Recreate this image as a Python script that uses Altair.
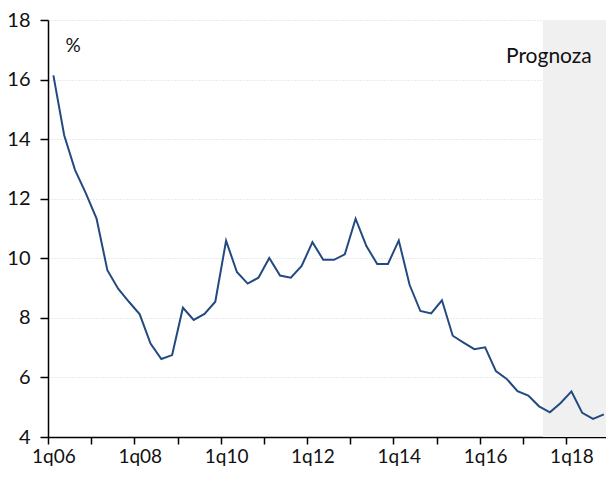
import altair as alt
import pandas as pd

quarters = [f"{q}q{y:02d}" for y in range(6, 19) for q in range(1, 5)]
values = [16.14, 14.13, 12.97, 12.19, 11.33, 9.60, 8.98, 8.54, 8.12, 7.14,
          6.62, 6.75, 8.34, 7.93, 8.13, 8.54, 10.59, 9.54, 9.15, 9.35,
          10.01, 9.42, 9.35, 9.74, 10.54, 9.95, 9.95, 10.13, 11.33, 10.41,
          9.81, 9.81, 10.60, 9.11, 8.23, 8.15, 8.59, 7.40, 7.17, 6.95,
          7.01, 6.21, 5.95, 5.54, 5.39, 5.03, 4.83, 5.14, 5.53, 4.81,
          4.61, 4.76]
label_quarters = ["1q06", "1q08", "1q10", "1q12", "1q14", "1q16", "1q18"]
y_ticks = [4, 6, 8, 10, 12, 14, 16, 18]
forecast_start = 45.35

df = pd.DataFrame({"idx": list(range(len(values))), "q": quarters, "v": values})

W = 558
H = 417
xmax = 51.2
per_q = W / (xmax + 0.5)

tick_vals = [-0.5 + 4 * k for k in range(13)]
expr = "''"
for lab in reversed(label_quarters):
    pos = quarters.index(lab) - 0.5
    expr = f"datum.value == {pos} ? '{lab}' : ({expr})"

FONT = "Lato"

xscale = alt.Scale(domain=[-0.5, xmax], nice=False, zero=False)
yscale = alt.Scale(domain=[4, 18], nice=False, zero=False)

xaxis = alt.Axis(values=tick_vals, labelExpr=expr, labelOffset=per_q / 2,
                 title=None, grid=False, tickSize=7, tickColor="black",
                 domainColor="black", domainWidth=1.5, tickWidth=1.5,
                 labelFont=FONT, labelFontSize=19, labelColor="#111",
                 labelPadding=3, labelFlush=False, labelOverlap=False,
                 labelBound=False)
yaxis = alt.Axis(values=y_ticks, title=None, grid=True, gridColor="#d6d6d6",
                 gridDash=[1, 2], gridWidth=1, tickSize=8, tickColor="black",
                 domainColor="black", domainWidth=1.5, tickWidth=1.5,
                 labelFont=FONT, labelFontSize=20, labelColor="#111",
                 labelPadding=10)

shade_df = pd.DataFrame({"x": [forecast_start], "x2": [xmax], "y": [4], "y2": [18]})
shade = alt.Chart(shade_df).mark_rect(color="#f0f0f0").encode(
    x=alt.X("x:Q", scale=xscale, axis=xaxis),
    x2="x2:Q",
    y=alt.Y("y:Q", scale=yscale, axis=yaxis),
    y2="y2:Q",
)

line = alt.Chart(df).mark_line(color="#234a80", strokeWidth=2).encode(
    x=alt.X("idx:Q", scale=xscale, axis=xaxis),
    y=alt.Y("v:Q", scale=yscale, axis=yaxis),
)

pct = alt.Chart(pd.DataFrame({"t": ["%"]})).mark_text(
    font=FONT, fontSize=19, color="#111", align="center", baseline="middle"
).encode(text="t:N", x=alt.value(25), y=alt.value(26))

prog = alt.Chart(pd.DataFrame({"t": ["Prognoza"]})).mark_text(
    font=FONT, fontSize=21, color="#111", align="left", baseline="alphabetic"
).encode(text="t:N", x=alt.value(458), y=alt.value(43))

chart = alt.layer(shade, line, pct, prog).properties(
    width=W, height=H,
    autosize=alt.AutoSizeParams(type="none"),
    padding={"left": 40, "top": 12, "right": 0, "bottom": 31},
).configure_view(stroke=None)

chart.save("out.html", embed_options={"renderer": "svg", "actions": False})
